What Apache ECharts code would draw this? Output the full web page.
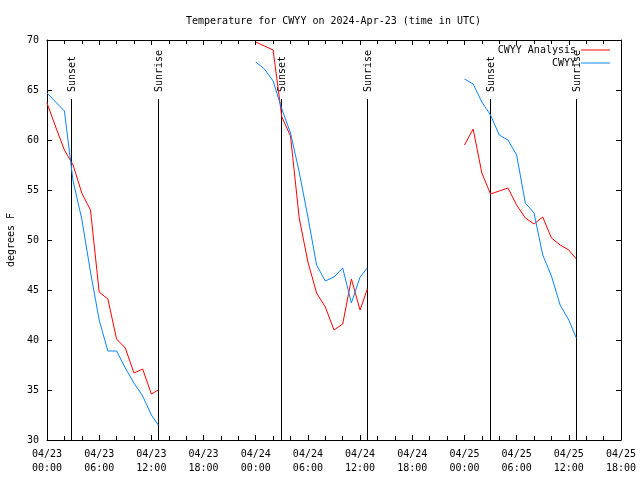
<!DOCTYPE html>
<html>
<head>
<meta charset="utf-8">
<script src="https://cdn.jsdelivr.net/npm/echarts@6/dist/echarts.min.js"></script>
<style>html,body{margin:0;padding:0;background:#fff}#c{width:640px;height:480px}</style>
</head>
<body>
<div id="c"></div>
<script>
// Hours since 2024-04-23 00:00 UTC
const tickLabels = ["04/23\n00:00","04/23\n06:00","04/23\n12:00","04/23\n18:00","04/24\n00:00","04/24\n06:00","04/24\n12:00","04/24\n18:00","04/25\n00:00","04/25\n06:00","04/25\n12:00","04/25\n18:00"];

const day1Times = [0,1,2,3,4,5,6,7,8,9,10,11,12,12.8];
const day1Analysis = [63.7,61.3,59.0,57.5,54.7,53.0,44.8,44.1,40.1,39.2,36.7,37.1,34.6,35.0];
const day1Obs = [64.7,63.8,62.9,55.9,52.1,46.8,42.0,38.9,38.9,37.2,35.7,34.4,32.5,31.5];

const day2Times = [24,25,26,27,28,29,30,31,32,33,34,35,36,36.83];
const day2Analysis = [69.8,69.4,69.0,62.3,60.4,52.2,47.8,44.7,43.3,41.0,41.6,46.1,43.0,45.1];
const day2Obs = [67.8,67.1,65.9,63.1,60.7,56.8,52.3,47.5,45.9,46.3,47.2,43.7,46.3,47.2];

const day3Times = [48,49,50,51,52,53,54,55,56,57,58,59,60,60.86];
const day3Analysis = [59.5,61.1,56.7,54.6,54.9,55.2,53.5,52.2,51.6,52.3,50.2,49.5,49.0,48.1];
const day3Obs = [66.1,65.6,63.8,62.5,60.5,60.0,58.5,53.7,52.7,48.5,46.4,43.5,42.0,40.2];

const sunTimes = [2.79,12.8,26.91,36.83,50.94,60.86];
const sunLabels = ["Sunset","Sunrise","Sunset","Sunrise","Sunset","Sunrise"];
const sunLineTop = 64.1;

const seriesNames = ["CWYY Analysis","CWYY"];
const FONT = '"DejaVu Sans Mono", "Liberation Mono", monospace';

function build(timesList, valsList){
  const out = [];
  timesList.forEach((ts, k) => {
    if (k > 0) out.push(['-','-']);
    ts.forEach((t, i) => out.push([t, valsList[k][i]]));
  });
  return out;
}

const chart = echarts.init(document.getElementById('c'), null, {renderer:'canvas'});
const axisCommon = {
  axisLine:{show:true, onZero:false, lineStyle:{color:'#000', width:1}},
  splitLine:{show:false}
};
chart.setOption({
  animation:false,
  backgroundColor:'#fff',
  title:{text:'Temperature for CWYY on 2024-Apr-23 (time in UTC)', left:181, top:11,
    textStyle:{fontFamily:FONT, fontSize:10, fontWeight:'normal', color:'#000'}},
  legend:{data:seriesNames, orient:'vertical', right:25, top:39, align:'right',
    icon:'rect', itemWidth:29, itemHeight:1, itemGap:1,
    textStyle:{fontFamily:FONT, fontSize:10, color:'#000', lineHeight:12}},
  grid:{left:47, right:19, top:40, bottom:40, containLabel:false, outerBoundsMode:'none'},
  xAxis:[
    Object.assign({type:'value', min:0, max:66, interval:6, position:'bottom',
      axisTick:{show:true, inside:true, length:5, lineStyle:{color:'#000'}},
      minorTick:{show:true, splitNumber:3, length:4, lineStyle:{color:'#000'}},
      axisLabel:{show:true, margin:7, fontFamily:FONT, fontSize:10, color:'#000', lineHeight:14,
        formatter:(v)=>tickLabels[Math.round(v/6)]}}, axisCommon),
    Object.assign({type:'value', min:0, max:66, interval:6, position:'top',
      axisTick:{show:true, inside:true, length:5, lineStyle:{color:'#000'}},
      minorTick:{show:true, splitNumber:3, length:4, lineStyle:{color:'#000'}},
      axisLabel:{show:false}}, axisCommon)
  ],
  yAxis:[
    Object.assign({type:'value', min:30, max:70, interval:5, position:'left',
      name:'degrees F', nameLocation:'middle', nameGap:31, nameRotate:90,
      nameTextStyle:{fontFamily:FONT, fontSize:10, color:'#000'},
      axisTick:{show:true, inside:true, length:5, lineStyle:{color:'#000'}},
      axisLabel:{show:true, margin:8, fontFamily:FONT, fontSize:10, color:'#000'}}, axisCommon),
    Object.assign({type:'value', min:30, max:70, interval:5, position:'right',
      axisTick:{show:true, inside:true, length:5, lineStyle:{color:'#000'}},
      axisLabel:{show:false}}, axisCommon)
  ],
  series:[
    {type:'custom', name:'sun', xAxisIndex:0, yAxisIndex:0, silent:true, clip:false,
      data: sunTimes.map((t,i)=>[t, sunLineTop]),
      renderItem:(params, api)=>{
        const t = api.value(0);
        const top = api.coord([t, api.value(1)]);
        const bot = api.coord([t, 30]);
        const x = Math.round(top[0]) + 0.5;
        return {type:'group', children:[
          {type:'line', shape:{x1:x, y1:top[1], x2:x, y2:bot[1]}, style:{stroke:'#000', lineWidth:1}},
          {type:'text', x:x + 1, y:top[1]-7, rotation:Math.PI/2,
            style:{text:sunLabels[params.dataIndex], fill:'#000', font:'10px ' + FONT, align:'left', verticalAlign:'middle'}}
        ]};
      }},
    {type:'line', name:seriesNames[0], data: build([day1Times,day2Times,day3Times],[day1Analysis,day2Analysis,day3Analysis]),
      showSymbol:false, symbol:'none', connectNulls:false, color:'#ff0000', lineStyle:{color:'#ff0000', width:1}},
    {type:'line', name:seriesNames[1], data: build([day1Times,day2Times,day3Times],[day1Obs,day2Obs,day3Obs]),
      showSymbol:false, symbol:'none', connectNulls:false, color:'#0a84ff', lineStyle:{color:'#0a84ff', width:1}}
  ]
});
</script>
</body>
</html>
